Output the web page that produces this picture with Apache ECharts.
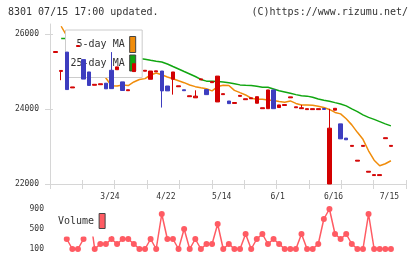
<!DOCTYPE html>
<html>
<head>
<meta charset="utf-8">
<script src="https://cdn.jsdelivr.net/npm/echarts@6/dist/echarts.min.js"></script>
<style>
html, body { margin: 0; padding: 0; background: #fff; }
#chart { width: 420px; height: 259px; }
</style>
</head>
<body>
<div id="chart"></div>
<script>
// x軸の日付ラベル (index on the x scale)
const dateLabels = ['3/24', '4/22', '5/14', '6/1', '6/16', '7/15'];
const dateIdx = [11, 21, 31, 41, 51, 61];

// price axis / volume axis labels
const priceTicks = [22000, 24000, 26000];
const volumeTicks = [100, 500, 900];

// ローソク足 from index 1: [open, close, low, high]
const candleStart = 1;
const candles = [
  [25510, 25535, 25510, 25535],
  [25005, 25030, 24770, 25030],
  [25520, 24520, 24520, 25520],
  [24565, 24590, 24565, 24590],
  [25670, 25695, 25670, 25695],
  [25320, 24800, 24800, 25320],
  [24990, 24630, 24630, 24990],
  [24635, 24660, 24635, 24660],
  [24650, 24675, 24650, 24675],
  [24690, 24540, 24540, 24690],
  [25035, 24545, 24545, 25520],
  [25050, 25125, 25050, 25125],
  [24725, 24495, 24495, 24725],
  [24490, 24515, 24490, 24515],
  [25000, 25210, 25000, 25210],
  null,
  [25010, 25035, 25010, 25035],
  [24795, 25015, 24795, 25015],
  [24995, 25020, 24995, 25020],
  [25015, 24485, 24040, 25015],
  [24615, 24485, 24485, 24615],
  [24795, 24990, 24385, 24990],
  [24595, 24620, 24595, 24620],
  [24515, 24490, 24490, 24515],
  [24330, 24355, 24330, 24355],
  [24300, 24345, 24300, 24500],
  [24780, 24805, 24780, 24805],
  [24520, 24385, 24385, 24520],
  [24705, 24730, 24705, 24730],
  [24190, 24880, 24190, 24880],
  [24385, 24410, 24385, 24410],
  [24215, 24145, 24145, 24215],
  [24150, 24175, 24150, 24175],
  [24340, 24365, 24340, 24365],
  [24250, 24275, 24250, 24275],
  [24275, 24300, 24275, 24300],
  [24155, 24330, 24155, 24330],
  [24010, 24035, 24010, 24035],
  [24010, 24510, 24010, 24510],
  [24510, 24010, 24010, 24510],
  [24040, 24110, 24040, 24110],
  [24095, 24120, 24095, 24120],
  [24300, 24325, 24300, 24325],
  [24035, 24060, 24035, 24060],
  [24010, 24035, 24010, 24110],
  [23985, 24010, 23985, 24010],
  [23985, 24010, 23985, 24010],
  [23985, 24010, 23985, 24010],
  [24015, 23990, 23990, 24015],
  [22000, 23490, 22000, 24005],
  [23970, 24020, 23970, 24020],
  [23605, 23205, 23205, 23605],
  [23225, 23180, 23180, 23225],
  [23005, 23030, 23005, 23030],
  [22610, 22635, 22610, 22635],
  [23005, 23030, 23005, 23030],
  [22315, 22340, 22315, 22340],
  [22225, 22250, 22225, 22250],
  [22225, 22250, 22225, 22250],
  [23210, 23235, 23210, 23235],
  [23005, 23030, 23005, 23030]
];

// 移動平均 from index 2 (null = behind the legend box)
const maStart = 2;
const ma5 = [
  26210, 25950, null, null, null, null, null, 25000, 24830, 24620,
  24616, 24643, 24628, 24723, 24790, 24812, 24909, 24962, 24917, 24856,
  24810, 24757, 24704, 24643, 24598, 24568, 24540, 24485, 24600, 24635,
  24630, 24500, 24438, 24377, 24289, 24262, 24262, 24244, 24226, 24199,
  24182, 24217, 24150, 24110, 24110, 24102, 24076, 24040, 23990, 23910,
  23871, 23741, 23578, 23379, 23193, 22887, 22634, 22487, 22540, 22620
];
const ma25 = [
  25885, 25885, null, null, null, null, null, null, null, null,
  null, null, null, null, 25350, 25327, 25300, 25274, 25255, 25202,
  25135, 25069, 25002, 24936, 24869, 24790, 24745, 24740, 24735, 24720,
  24700, 24677, 24645, 24635, 24630, 24608, 24585, 24580, 24536, 24491,
  24457, 24422, 24385, 24355, 24345, 24315, 24270, 24236, 24209, 24172,
  24137, 24084, 24004, 23930, 23845, 23778, 23725, 23666, 23605, 23552
];

// 出来高 from index 3
const volStart = 3;
const volume = [
  300, 100, 100, 300, 900, 100, 200, 200, 300, 200,
  300, 300, 200, 100, 100, 300, 100, 800, 300, 300,
  100, 500, 100, 300, 100, 200, 200, 600, 100, 200,
  100, 100, 400, 100, 300, 400, 200, 300, 200, 100,
  100, 100, 400, 100, 100, 200, 700, 900, 400, 300,
  400, 200, 100, 100, 800, 100, 100, 100, 100
];

const xMax = 63.7;
const xTicks = Array.from({ length: 12 }, (_, k) => k * xMax / 11);
const axisGray = '#d6d6d6';
const mono = 'DejaVu Sans Mono';
const textColor = '#333';
const upColor = '#d30000';
const downColor = '#3d3dbf';
const volColor = '#ff5b63';
const plain = v => String(v);

const candleData = [];
candles.forEach((c, i) => {
  if (c) candleData.push([candleStart + i, ...c]);
});
const toXY = (arr, start) => arr.map((v, i) => [start + i, v]);

const chart = echarts.init(document.getElementById('chart'));

const option = {
  animation: false,
  title: [
    {
      text: '8301 07/15 17:00 updated.',
      left: 8, top: 7, padding: 0,
      textStyle: { fontFamily: mono, fontSize: 10, fontWeight: 'normal', color: textColor }
    },
    {
      text: '(C)https://www.rizumu.net/',
      right: 12, top: 7, padding: 0,
      textStyle: { fontFamily: mono, fontSize: 10, fontWeight: 'normal', color: textColor }
    }
  ],
  legend: [
    {
      data: ['5-day MA', '25-day MA'],
      orient: 'vertical',
      align: 'right',
      left: 65.5, top: 30,
      padding: [6, 6, 6, 5],
      itemWidth: 6, itemHeight: 16, itemGap: 1.5,
      icon: 'rect',
      selectedMode: false,
      backgroundColor: '#fff',
      borderColor: '#cccccc', borderWidth: 1,
      itemStyle: { borderColor: '#444', borderWidth: 1 },
      textStyle: { fontFamily: mono, fontSize: 10, color: textColor }
    },
    {
      data: ['Volume'],
      orient: 'horizontal',
      align: 'right',
      left: 54, top: 205,
      padding: [8, 5, 7.5, 4],
      itemWidth: 6, itemHeight: 15,
      icon: 'rect',
      selectedMode: false,
      backgroundColor: '#fff',
      itemStyle: { borderColor: '#444', borderWidth: 1 },
      textStyle: { fontFamily: mono, fontSize: 10, color: textColor }
    }
  ],
  grid: [
    { left: 50, right: 14, top: 24, bottom: 75 },
    { left: 50, right: 14, top: 204, bottom: 5 }
  ],
  xAxis: [
    {
      type: 'value', gridIndex: 0, min: 0, max: xMax, position: 'bottom',
      axisLine: { show: true, lineStyle: { color: axisGray } },
      axisTick: { show: true, length: 5, customValues: xTicks, lineStyle: { color: axisGray } },
      axisLabel: {
        customValues: dateIdx,
        formatter: v => dateLabels[dateIdx.indexOf(v)] || '',
        margin: 9, padding: [0, 3, 0, 0],
        fontFamily: mono, fontSize: 8, color: textColor
      },
      splitLine: { show: false }
    },
    {
      type: 'value', gridIndex: 0, min: 0, max: xMax, position: 'bottom',
      axisLine: { show: false },
      axisTick: { show: true, inside: true, length: 4, customValues: xTicks, lineStyle: { color: axisGray } },
      axisLabel: { show: false },
      splitLine: { show: false }
    },
    {
      type: 'value', gridIndex: 1, min: 0, max: xMax, show: false
    }
  ],
  yAxis: [
    {
      type: 'value', gridIndex: 0, min: 22000, max: 26270, position: 'left',
      axisLine: { show: true, lineStyle: { color: axisGray } },
      axisTick: { show: true, length: 5, customValues: priceTicks, lineStyle: { color: axisGray } },
      axisLabel: { customValues: priceTicks, formatter: plain, margin: 11, fontFamily: mono, fontSize: 8, color: textColor },
      splitLine: { show: false }
    },
    {
      type: 'value', gridIndex: 0, min: 22000, max: 26270, position: 'left',
      axisLine: { show: false },
      axisTick: { show: true, inside: true, length: 3, customValues: priceTicks, lineStyle: { color: axisGray } },
      axisLabel: { show: false },
      splitLine: { show: false }
    },
    {
      type: 'value', gridIndex: 1, min: 0, max: 1000, position: 'left',
      axisLine: { show: false },
      axisTick: { show: false },
      axisLabel: { customValues: volumeTicks, formatter: plain, margin: 6, fontFamily: mono, fontSize: 8, color: textColor },
      splitLine: { show: false }
    }
  ],
  series: [
    {
      name: '25-day MA',
      type: 'line',
      xAxisIndex: 0, yAxisIndex: 0,
      data: toXY(ma25, maStart),
      showSymbol: false,
      color: '#11a611',
      lineStyle: { width: 1.5 },
      z: 2
    },
    {
      name: '5-day MA',
      type: 'line',
      xAxisIndex: 0, yAxisIndex: 0,
      data: toXY(ma5, maStart),
      showSymbol: false,
      color: '#f08c0a',
      lineStyle: { width: 1.5 },
      z: 2
    },
    {
      name: 'Price',
      type: 'candlestick',
      xAxisIndex: 0, yAxisIndex: 0,
      data: candleData,
      barWidth: 4,
      itemStyle: {
        color: upColor, color0: downColor,
        borderColor: upColor, borderColor0: downColor,
        borderWidth: 1
      },
      z: 6
    },
    {
      name: 'Volume',
      type: 'line',
      xAxisIndex: 2, yAxisIndex: 2,
      data: toXY(volume, volStart),
      symbol: 'circle',
      symbolSize: 6,
      color: volColor,
      lineStyle: { width: 1.5 },
      z: 2
    }
  ]
};

chart.setOption(option);
</script>
</body>
</html>
